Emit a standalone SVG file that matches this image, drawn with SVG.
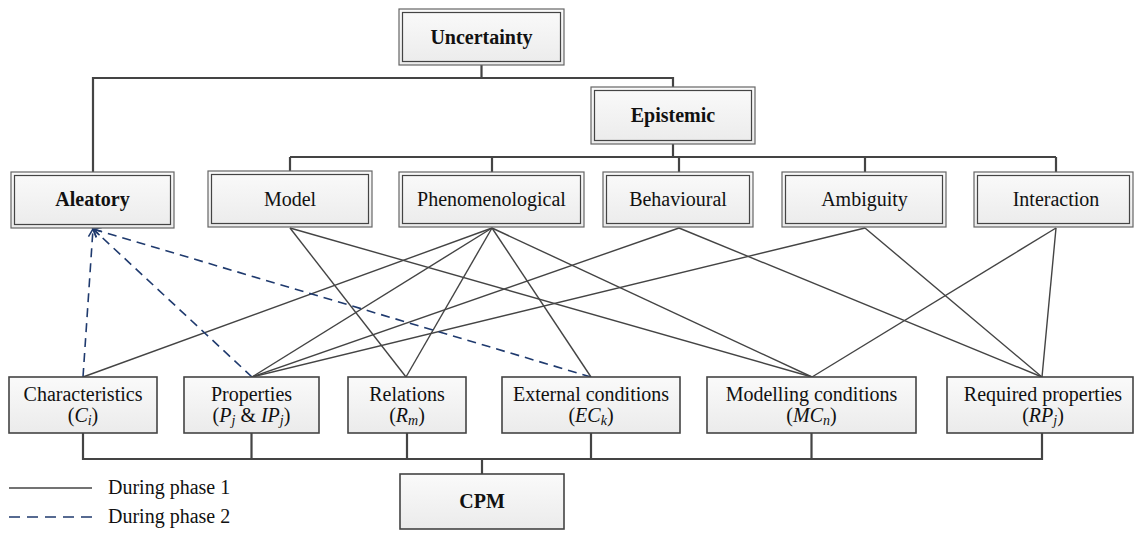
<svg xmlns="http://www.w3.org/2000/svg" width="1134" height="536" viewBox="0 0 1134 536">
<defs>
<linearGradient id="g" x1="0" y1="0" x2="0" y2="1">
<stop offset="0" stop-color="#fafafa"/>
<stop offset="1" stop-color="#ebebeb"/>
</linearGradient>
<marker id="arr" markerWidth="12" markerHeight="12" refX="9" refY="5" orient="auto" markerUnits="userSpaceOnUse">
<path d="M1,1 L9,5 L1,9" fill="none" stroke="#1f3a6e" stroke-width="1.5"/>
</marker>
</defs>
<style>
.outer{fill:url(#g);stroke:#666;stroke-width:1.2}
.inner{fill:none;stroke:#444;stroke-width:1.2}
.single{fill:url(#g);stroke:#444;stroke-width:1.6}
.t{font-family:"Liberation Serif","Times New Roman",serif;font-size:20px;fill:#111;text-anchor:middle}
.b{font-weight:bold}
.i{font-style:italic}
.sub{font-style:italic;font-size:14px}
.tree{stroke:#444;stroke-width:2.2;fill:none}
.c{stroke:#444;stroke-width:1.4;fill:none}
.d{stroke:#1f3a6e;stroke-width:1.6;fill:none;stroke-dasharray:9,6}
.leg{font-family:"Liberation Serif","Times New Roman",serif;font-size:20px;fill:#111}
</style>

<g id="connectors">
<!-- hierarchy tree -->
<path class="tree" d="M481.5,65 V78 M93,172 V78 H673 V87 M673,144 V157 M290,157 H1056 M290,157 V172 M492,157 V172 M679,157 V172 M865,157 V172 M1056,157 V172"/>
<!-- bus to CPM -->
<path class="tree" d="M83,433 V459 H1042 V433 M251.5,433 V459 M407,433 V459 M591,433 V459 M811.5,433 V459 M482,459 V474"/>
<!-- phase 1 links -->
<line class="c" x1="290" y1="228" x2="406" y2="377"/>
<line class="c" x1="290" y1="228" x2="812" y2="377"/>
<line class="c" x1="492" y1="228" x2="83" y2="377"/>
<line class="c" x1="492" y1="228" x2="252" y2="377"/>
<line class="c" x1="492" y1="228" x2="406" y2="377"/>
<line class="c" x1="492" y1="228" x2="591" y2="377"/>
<line class="c" x1="492" y1="228" x2="812" y2="377"/>
<line class="c" x1="679" y1="228" x2="252" y2="377"/>
<line class="c" x1="679" y1="228" x2="1042" y2="377"/>
<line class="c" x1="865" y1="228" x2="252" y2="377"/>
<line class="c" x1="865" y1="228" x2="1042" y2="377"/>
<line class="c" x1="1056" y1="228" x2="812" y2="377"/>
<line class="c" x1="1056" y1="228" x2="1042" y2="377"/>
<!-- phase 2 links -->
<line class="d" x1="83" y1="377" x2="93" y2="229" marker-end="url(#arr)"/>
<line class="d" x1="252" y1="377" x2="93" y2="229" marker-end="url(#arr)"/>
<line class="d" x1="591" y1="377" x2="93" y2="229" marker-end="url(#arr)"/>
</g>

<g id="uncertainty">
<rect class="outer" x="399" y="9" width="165" height="56"/>
<rect class="inner" x="402.5" y="12.5" width="158" height="49"/>
<text class="t b" x="481.5" y="44">Uncertainty</text>
</g>
<g id="epistemic">
<rect class="outer" x="591" y="87" width="164" height="57"/>
<rect class="inner" x="594.5" y="90.5" width="157" height="50"/>
<text class="t b" x="673" y="122">Epistemic</text>
</g>
<g id="aleatory">
<rect class="outer" x="11" y="172" width="163" height="56"/>
<rect class="inner" x="14.5" y="175.5" width="156" height="49"/>
<text class="t b" x="92.5" y="206">Aleatory</text>
</g>
<g id="model">
<rect class="outer" x="208" y="171" width="164" height="56"/>
<rect class="inner" x="211.5" y="174.5" width="157" height="49"/>
<text class="t" x="290" y="206">Model</text>
</g>
<g id="phenomenological">
<rect class="outer" x="399" y="172" width="185" height="55"/>
<rect class="inner" x="402.5" y="175.5" width="178" height="48"/>
<text class="t" x="491.5" y="206">Phenomenological</text>
</g>
<g id="behavioural">
<rect class="outer" x="603" y="172" width="150" height="55"/>
<rect class="inner" x="606.5" y="175.5" width="143" height="48"/>
<text class="t" x="678" y="206">Behavioural</text>
</g>
<g id="ambiguity">
<rect class="outer" x="782" y="172" width="164" height="55"/>
<rect class="inner" x="785.5" y="175.5" width="157" height="48"/>
<text class="t" x="864.5" y="206">Ambiguity</text>
</g>
<g id="interaction">
<rect class="outer" x="974" y="172" width="159" height="55"/>
<rect class="inner" x="977.5" y="175.5" width="152" height="48"/>
<text class="t" x="1056" y="206">Interaction</text>
</g>

<g id="characteristics">
<rect class="single" x="9" y="377" width="148" height="56"/>
<text class="t" x="83" y="401">Characteristics</text>
<text class="t" x="83" y="422">(<tspan class="i">C</tspan><tspan class="sub" dy="3">i</tspan><tspan dy="-3">)</tspan></text>
</g>
<g id="properties">
<rect class="single" x="184" y="377" width="135" height="56"/>
<text class="t" x="251.5" y="401">Properties</text>
<text class="t" x="251.5" y="422">(<tspan class="i">P</tspan><tspan class="sub" dy="3">j</tspan><tspan dy="-3"> &amp; </tspan><tspan class="i">IP</tspan><tspan class="sub" dy="3">j</tspan><tspan dy="-3">)</tspan></text>
</g>
<g id="relations">
<rect class="single" x="348" y="377" width="118" height="56"/>
<text class="t" x="407" y="401">Relations</text>
<text class="t" x="407" y="422">(<tspan class="i">R</tspan><tspan class="sub" dy="3">m</tspan><tspan dy="-3">)</tspan></text>
</g>
<g id="external-conditions">
<rect class="single" x="502" y="377" width="178" height="56"/>
<text class="t" x="591" y="401">External conditions</text>
<text class="t" x="591" y="422">(<tspan class="i">EC</tspan><tspan class="sub" dy="3">k</tspan><tspan dy="-3">)</tspan></text>
</g>
<g id="modelling-conditions">
<rect class="single" x="707" y="377" width="209" height="56"/>
<text class="t" x="811.5" y="401">Modelling conditions</text>
<text class="t" x="811.5" y="422">(<tspan class="i">MC</tspan><tspan class="sub" dy="3">n</tspan><tspan dy="-3">)</tspan></text>
</g>
<g id="required-properties">
<rect class="single" x="947" y="377" width="186" height="56"/>
<text class="t" x="1043" y="401">Required properties</text>
<text class="t" x="1043" y="422">(<tspan class="i">RP</tspan><tspan class="sub" dy="3">j</tspan><tspan dy="-3">)</tspan></text>
</g>
<g id="cpm">
<rect class="single" x="400" y="474" width="164" height="55"/>
<text class="t b" x="482" y="508">CPM</text>
</g>

<g id="legend">
<line x1="9" y1="488" x2="92" y2="488" stroke="#444" stroke-width="1.4"/>
<text class="leg" x="108" y="494">During phase 1</text>
<line x1="9" y1="517" x2="92" y2="517" stroke="#1f3a6e" stroke-width="1.6" stroke-dasharray="11,7"/>
<text class="leg" x="108" y="523">During phase 2</text>
</g>
</svg>
